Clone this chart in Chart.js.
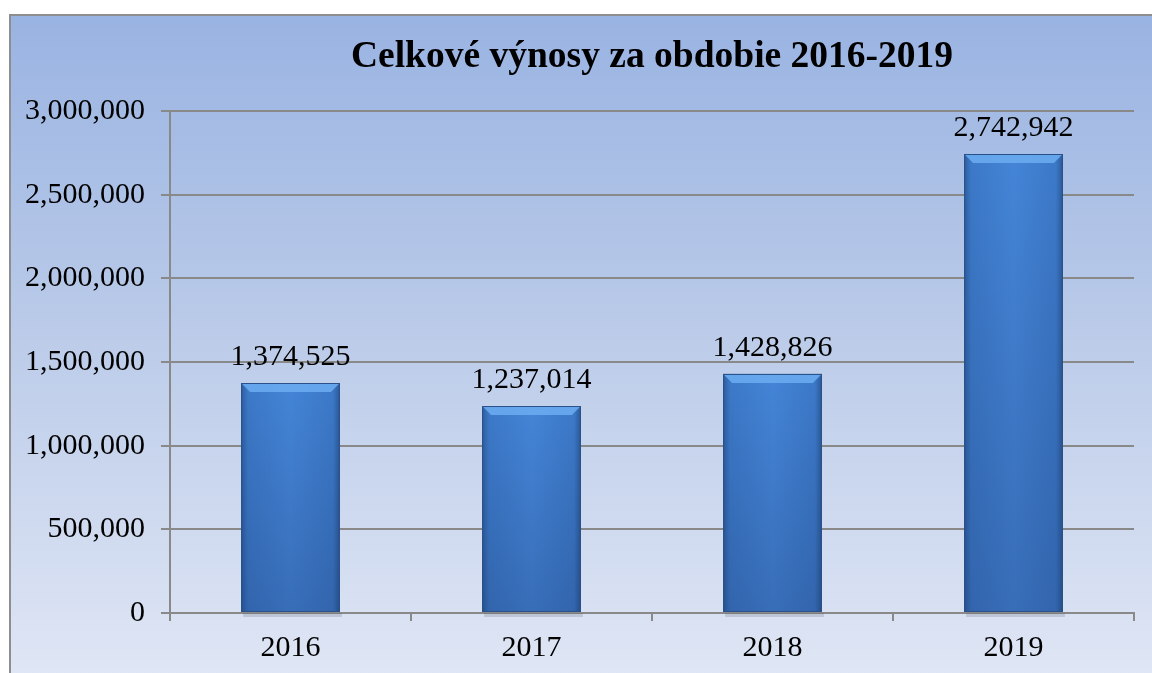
<!DOCTYPE html>
<html>
<head>
<meta charset="utf-8">
<title>Celkové výnosy za obdobie 2016-2019</title>
<script src="https://cdn.jsdelivr.net/npm/chart.js@4/dist/chart.umd.min.js"></script>
<style>
    html, body { margin: 0; padding: 0; background: #ffffff; }
    #wrap { width: 1152px; height: 673px; }
</style>
</head>
<body>
<div id="wrap"><canvas id="revenue-chart" width="1152" height="673"></canvas></div>
<script>
// Chart data - yearly revenues
const years = ['2016', '2017', '2018', '2019'];
const revenues = [1374525, 1237014, 1428826, 2742942];
const yMin = 0;
const yMax = 3000000;
const yStep = 500000;

const SERIF = '"Liberation Serif", "Times New Roman", serif';
const GRID_COLOR = '#898989';

function fmt(v) {
    return Number(v).toLocaleString('en-US');
}

// Background of the whole chart box (gradient + grey frame on left/top)
const backgroundPlugin = {
    id: 'boxBackground',
    beforeDraw(chart) {
        const ctx = chart.ctx;
        const w = chart.width;
        const h = chart.height;
        ctx.save();
        const g = ctx.createLinearGradient(0, 14, 0, h);
        g.addColorStop(0, '#99b3e2');
        g.addColorStop(0.5, '#bccce9');
        g.addColorStop(1, '#dfe6f5');
        ctx.fillStyle = g;
        ctx.fillRect(9, 14, w - 9, h - 14);
        ctx.strokeStyle = '#8e8e8e';
        ctx.lineWidth = 2;
        ctx.beginPath();
        ctx.moveTo(10, h);
        ctx.lineTo(10, 15);
        ctx.lineTo(w, 15);
        ctx.stroke();
        ctx.restore();
    }
};

// Shade each bar (edges, bottom, top bevel) and write its value above it
const barStylePlugin = {
    id: 'barStyle',
    afterDatasetsDraw(chart) {
        const ctx = chart.ctx;
        ctx.save();
        chart.getDatasetMeta(0).data.forEach((bar, i) => {
            const left = bar.x - bar.width / 2;
            const right = bar.x + bar.width / 2;
            const top = bar.y;
            const bottom = bar.base;
            const w = right - left;
            const h = bottom - top;

            // soft shadow under the bar
            ctx.fillStyle = 'rgba(60, 70, 90, 0.18)';
            ctx.fillRect(left + 2, bottom + 1, w, 4);

            // body, lighter in the middle
            const g = ctx.createLinearGradient(left, 0, right, 0);
            g.addColorStop(0, '#2d5d9d');
            g.addColorStop(0.07, '#3c79c8');
            g.addColorStop(0.5, '#4485d7');
            g.addColorStop(0.93, '#3c79c8');
            g.addColorStop(1, '#2b5997');
            ctx.fillStyle = g;
            ctx.fillRect(left, top, w, h);

            // darker towards the bottom
            const v = ctx.createLinearGradient(0, top, 0, bottom);
            v.addColorStop(0, 'rgba(20, 40, 90, 0)');
            v.addColorStop(1, 'rgba(20, 40, 90, 0.25)');
            ctx.fillStyle = v;
            ctx.fillRect(left, top, w, h);

            // top bevel
            const b = 9;
            ctx.fillStyle = 'rgba(105, 170, 240, 0.9)';
            ctx.beginPath();
            ctx.moveTo(left + 1, top + 1);
            ctx.lineTo(right - 1, top + 1);
            ctx.lineTo(right - b, top + b);
            ctx.lineTo(left + b, top + b);
            ctx.closePath();
            ctx.fill();

            // outline
            ctx.strokeStyle = '#2a5189';
            ctx.lineWidth = 1;
            ctx.strokeRect(left + 0.5, top + 0.5, w - 1, h - 1);

            // value label
            ctx.fillStyle = '#000000';
            ctx.font = '30px ' + SERIF;
            ctx.textAlign = 'center';
            ctx.textBaseline = 'alphabetic';
            ctx.fillText(fmt(revenues[i]), bar.x, top - 18);
        });
        ctx.restore();
    }
};

const ctx = document.getElementById('revenue-chart').getContext('2d');

new Chart(ctx, {
    type: 'bar',
    data: {
        labels: years,
        datasets: [{
            label: 'Výnosy',
            data: revenues,
            backgroundColor: '#4383d5',
            borderColor: '#2b5590',
            borderWidth: 1,
            barPercentage: 0.41,
            categoryPercentage: 1.0
        }]
    },
    options: {
        responsive: false,
        animation: false,
        layout: {
            padding: { left: 9, top: 14, right: 18, bottom: 0 }
        },
        plugins: {
            legend: { display: false },
            tooltip: { enabled: false },
            title: {
                display: true,
                fullSize: false,
                text: 'Celkové výnosy za obdobie 2016-2019',
                color: '#000000',
                font: { family: SERIF, size: 37.5, weight: 'bold' },
                padding: { top: 21, bottom: 31 }
            }
        },
        scales: {
            x: {
                afterFit(scale) {
                    scale.height = 60;
                },
                grid: {
                    display: true,
                    drawOnChartArea: false,
                    drawTicks: true,
                    tickLength: 8,
                    color: GRID_COLOR,
                    lineWidth: 2
                },
                border: { display: true, color: GRID_COLOR, width: 2 },
                ticks: {
                    color: '#000000',
                    font: { family: SERIF, size: 30 },
                    padding: 9
                }
            },
            y: {
                min: yMin,
                max: yMax,
                afterFit(scale) {
                    scale.width = 161;
                },
                grid: {
                    color: GRID_COLOR,
                    lineWidth: 2,
                    tickLength: 9
                },
                border: { display: true, color: GRID_COLOR, width: 2 },
                ticks: {
                    stepSize: yStep,
                    color: '#000000',
                    font: { family: SERIF, size: 30 },
                    padding: 16,
                    callback: value => fmt(value)
                }
            }
        }
    },
    plugins: [backgroundPlugin, barStylePlugin]
});
</script>
</body>
</html>
